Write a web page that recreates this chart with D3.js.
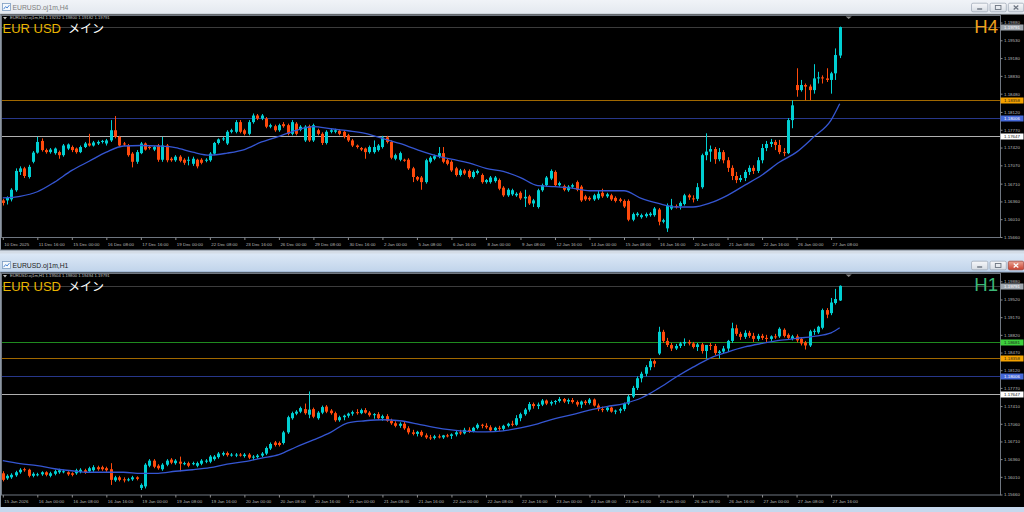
<!DOCTYPE html>
<html><head><meta charset="utf-8">
<script src="https://cdn.jsdelivr.net/npm/d3@7/dist/d3.min.js"></script>
<style>
html,body{margin:0;padding:0;background:#d6dee8;overflow:hidden}
svg{display:block}
text{font-family:"Liberation Sans",Arial,sans-serif}
</style></head><body>
<svg id="chart" width="1024" height="512"></svg>
<script>
// ---------------- DATA ----------------
const symbolName = "EUR USD";
const symbolSub = "メイン";
const h4Title = "EURUSD.oj1m,H4";
const h1Title = "EURUSD.oj1m,H1";
const h4HeaderValues = ["1.19232", "1.19800", "1.19182", "1.19791"];
const h1HeaderValues = ["1.19504", "1.19800", "1.19494", "1.19791"];

// prices in units of 0.0001
const h4Open = [11638,11638,11640,11658,11694,11701,11684,11714,11732,11755,11737,11733,11731,11733,11727,11740,11743,11740,11733,11743,11750,11746,11750,11753,11750,11756,11776,11763,11750,11746,11730,11714,11731,11750,11743,11738,11746,11718,11746,11720,11717,11724,11718,11717,11710,11718,11718,11716,11717,11730,11751,11758,11750,11773,11773,11792,11776,11769,11792,11805,11799,11799,11783,11784,11776,11788,11786,11769,11789,11777,11756,11784,11756,11776,11769,11751,11773,11773,11775,11773,11766,11756,11746,11741,11740,11733,11733,11737,11743,11762,11753,11720,11718,11718,11718,11701,11684,11683,11674,11714,11720,11724,11731,11717,11714,11701,11688,11697,11696,11684,11692,11688,11674,11674,11676,11678,11663,11648,11650,11648,11653,11642,11646,11632,11625,11658,11668,11681,11694,11668,11666,11658,11665,11674,11665,11646,11643,11640,11642,11653,11646,11648,11643,11640,11637,11637,11600,11609,11605,11607,11609,11609,11620,11596,11583,11622,11627,11627,11631,11648,11642,11641,11664,11727,11734,11739,11719,11733,11717,11702,11686,11678,11682,11694,11702,11696,11717,11741,11749,11753,11747,11733,11731,11796,11865,11855,11865,11862,11855,11878,11880,11878,11875,11888,11923];
const h4High = [11641,11646,11662,11701,11705,11704,11708,11735,11763,11760,11740,11741,11742,11736,11749,11750,11746,11742,11746,11753,11769,11755,11756,11757,11759,11796,11804,11765,11753,11749,11733,11737,11753,11752,11745,11745,11749,11763,11749,11723,11727,11727,11721,11724,11724,11720,11721,11721,11733,11753,11760,11763,11776,11779,11796,11796,11779,11796,11809,11808,11808,11802,11789,11787,11789,11792,11789,11796,11792,11786,11786,11787,11789,11779,11772,11776,11779,11779,11778,11776,11769,11759,11748,11743,11742,11746,11756,11749,11765,11765,11756,11730,11734,11720,11721,11704,11686,11686,11720,11725,11728,11743,11743,11720,11717,11704,11700,11700,11699,11697,11699,11691,11680,11686,11686,11681,11666,11662,11661,11654,11656,11659,11649,11641,11661,11671,11686,11699,11697,11675,11669,11668,11671,11677,11668,11649,11646,11651,11658,11661,11653,11651,11646,11643,11640,11640,11614,11615,11612,11614,11615,11625,11623,11602,11632,11641,11630,11636,11651,11651,11648,11672,11730,11770,11746,11743,11741,11737,11723,11707,11694,11688,11698,11707,11707,11723,11749,11755,11759,11757,11757,11741,11800,11835,11898,11875,11868,11866,11906,11891,11884,11898,11891,11937,11980];
const h4Low = [11628,11630,11636,11655,11688,11682,11681,11711,11730,11734,11730,11730,11728,11720,11724,11737,11733,11730,11731,11741,11744,11744,11747,11750,11746,11753,11760,11743,11745,11724,11703,11710,11729,11736,11738,11735,11714,11714,11713,11714,11714,11713,11708,11707,11706,11701,11709,11713,11714,11727,11748,11755,11747,11770,11770,11770,11766,11766,11789,11796,11796,11780,11780,11773,11773,11781,11766,11766,11766,11774,11753,11753,11753,11766,11747,11748,11770,11770,11766,11760,11753,11743,11740,11735,11720,11730,11730,11734,11740,11750,11719,11717,11715,11714,11698,11674,11676,11659,11671,11711,11717,11721,11711,11707,11694,11685,11685,11688,11681,11681,11689,11671,11671,11671,11673,11658,11645,11645,11647,11645,11639,11625,11629,11625,11622,11655,11665,11678,11665,11665,11656,11655,11662,11656,11635,11637,11637,11637,11639,11643,11643,11637,11634,11634,11623,11597,11597,11606,11602,11604,11606,11606,11589,11593,11576,11619,11622,11620,11628,11639,11634,11637,11661,11717,11714,11710,11715,11711,11694,11678,11672,11674,11676,11688,11690,11692,11711,11735,11743,11737,11729,11725,11729,11780,11842,11852,11835,11835,11848,11868,11868,11871,11848,11875,11918];
const h4Close = [11633,11643,11659,11696,11701,11686,11704,11732,11753,11737,11733,11738,11740,11727,11746,11748,11737,11733,11743,11750,11746,11752,11753,11755,11756,11776,11763,11746,11748,11727,11714,11733,11750,11738,11741,11743,11718,11746,11717,11717,11724,11716,11712,11718,11720,11705,11712,11718,11730,11751,11758,11760,11773,11776,11792,11773,11769,11792,11805,11799,11805,11783,11786,11776,11786,11784,11769,11792,11769,11783,11783,11756,11786,11769,11751,11773,11776,11776,11769,11763,11756,11746,11743,11738,11733,11743,11743,11746,11762,11753,11722,11727,11731,11717,11701,11684,11679,11674,11717,11722,11725,11731,11714,11710,11697,11688,11697,11691,11684,11694,11696,11674,11678,11683,11683,11661,11648,11659,11658,11651,11642,11645,11632,11638,11658,11668,11683,11696,11668,11672,11659,11665,11668,11659,11638,11640,11640,11648,11651,11646,11650,11640,11637,11637,11626,11600,11611,11612,11609,11611,11612,11622,11596,11599,11628,11628,11625,11633,11648,11644,11641,11664,11727,11734,11739,11719,11733,11717,11702,11686,11678,11682,11694,11702,11696,11717,11741,11749,11753,11747,11733,11731,11796,11825,11855,11865,11862,11855,11878,11880,11878,11875,11888,11924,11979];
const h4MaBars = [0,4,8,12,16,20,24,28,32,36,40,44,48,52,56,60,64,68,72,76,80,84,88,92,96,100,104,108,112,116,120,124,128,132,136,140,144,148,152,156,160,164,168,172,176,180,184,188,192,194];
const h4Ma = [11643,11646,11655,11674,11697,11715,11733,11745,11746,11745,11742,11733,11727,11731,11738,11753,11764,11776,11783,11779,11775,11770,11760,11750,11738,11727,11719,11712,11701,11695,11683,11667,11665,11662,11657,11657,11657,11642,11632,11625,11625,11633,11648,11668,11688,11713,11733,11763,11796,11828];

const h1Open = [11608,11598,11600,11604,11610,11616,11615,11603,11605,11606,11610,11603,11607,11610,11611,11610,11608,11608,11611,11614,11612,11614,11620,11620,11618,11616,11594,11600,11596,11595,11596,11600,11579,11582,11623,11633,11623,11616,11625,11635,11628,11631,11627,11628,11627,11623,11627,11631,11631,11636,11640,11645,11648,11644,11643,11645,11642,11645,11639,11640,11643,11647,11657,11669,11668,11668,11689,11717,11726,11730,11735,11724,11735,11717,11728,11740,11732,11727,11713,11719,11722,11726,11729,11727,11733,11728,11723,11725,11717,11721,11712,11707,11702,11706,11697,11689,11686,11690,11683,11679,11678,11681,11679,11683,11682,11685,11689,11687,11694,11691,11698,11704,11702,11699,11693,11698,11696,11702,11706,11704,11717,11725,11734,11745,11741,11744,11752,11746,11749,11751,11755,11750,11753,11749,11744,11750,11747,11754,11742,11735,11733,11738,11730,11732,11735,11746,11760,11777,11796,11805,11818,11830,11845,11888,11870,11862,11855,11860,11865,11868,11865,11858,11863,11850,11862,11860,11846,11849,11855,11870,11895,11884,11878,11886,11880,11874,11880,11876,11874,11879,11879,11892,11882,11874,11879,11874,11867,11861,11888,11887,11896,11931,11925,11945,11950];
const h1High = [11612,11606,11608,11613,11618,11619,11617,11610,11609,11612,11612,11611,11615,11617,11615,11612,11610,11617,11618,11617,11621,11624,11623,11623,11621,11628,11603,11603,11600,11599,11603,11602,11588,11628,11636,11636,11626,11628,11636,11638,11636,11641,11631,11631,11631,11631,11636,11636,11644,11644,11650,11651,11651,11648,11648,11648,11648,11648,11644,11646,11650,11661,11669,11672,11671,11692,11722,11730,11733,11740,11746,11770,11738,11731,11742,11743,11735,11730,11722,11724,11728,11732,11735,11736,11737,11731,11727,11729,11724,11725,11716,11711,11709,11710,11701,11694,11692,11693,11687,11684,11684,11685,11684,11686,11687,11692,11694,11698,11699,11700,11707,11706,11707,11703,11700,11702,11704,11708,11712,11723,11728,11737,11749,11748,11748,11755,11754,11752,11753,11759,11757,11756,11757,11752,11752,11753,11757,11756,11746,11740,11741,11740,11734,11738,11748,11763,11781,11800,11809,11822,11835,11833,11898,11892,11876,11866,11864,11868,11875,11872,11868,11866,11866,11862,11866,11864,11852,11860,11872,11906,11902,11888,11891,11890,11886,11884,11884,11882,11881,11884,11897,11895,11885,11882,11883,11877,11870,11892,11894,11900,11934,11935,11955,11973,11980];
const h1Low = [11592,11595,11597,11601,11607,11611,11600,11600,11602,11603,11602,11600,11604,11607,11608,11603,11602,11605,11608,11607,11609,11611,11613,11613,11611,11585,11591,11592,11590,11592,11593,11594,11575,11578,11620,11618,11615,11613,11622,11626,11625,11612,11624,11620,11624,11620,11624,11628,11628,11633,11637,11642,11641,11641,11640,11641,11639,11636,11634,11637,11640,11644,11654,11661,11661,11665,11686,11714,11723,11727,11724,11717,11717,11714,11725,11727,11724,11710,11710,11713,11718,11722,11724,11725,11726,11720,11716,11714,11712,11710,11704,11699,11698,11694,11685,11683,11681,11680,11676,11674,11675,11677,11676,11679,11676,11681,11684,11685,11688,11689,11695,11697,11696,11690,11691,11692,11692,11699,11701,11702,11711,11722,11730,11736,11735,11741,11743,11742,11744,11748,11747,11745,11746,11740,11737,11743,11744,11740,11731,11729,11730,11728,11725,11727,11731,11743,11757,11773,11788,11800,11812,11818,11842,11866,11858,11850,11852,11856,11860,11861,11855,11850,11845,11835,11852,11842,11835,11845,11848,11866,11880,11872,11874,11876,11868,11870,11872,11868,11870,11874,11876,11877,11873,11871,11867,11861,11853,11858,11882,11884,11893,11915,11921,11942,11949];
const h1Close = [11595,11603,11605,11610,11615,11614,11603,11607,11606,11610,11605,11608,11612,11614,11612,11606,11605,11614,11615,11610,11618,11620,11616,11616,11614,11595,11600,11595,11595,11596,11600,11597,11585,11625,11633,11621,11618,11625,11633,11629,11633,11627,11628,11623,11628,11628,11633,11633,11641,11641,11647,11648,11644,11645,11645,11644,11645,11639,11641,11643,11647,11658,11666,11664,11664,11689,11719,11727,11730,11737,11727,11734,11720,11728,11739,11730,11727,11713,11719,11722,11726,11729,11727,11733,11728,11723,11725,11717,11721,11712,11707,11702,11706,11697,11689,11686,11690,11683,11679,11678,11681,11679,11683,11682,11685,11689,11687,11694,11691,11698,11704,11702,11699,11693,11698,11696,11702,11706,11704,11717,11725,11734,11745,11741,11744,11752,11746,11749,11751,11755,11750,11753,11749,11744,11750,11747,11754,11742,11735,11733,11738,11730,11732,11735,11746,11760,11777,11796,11805,11818,11830,11825,11888,11870,11862,11855,11860,11865,11868,11865,11858,11863,11850,11862,11860,11846,11849,11855,11870,11895,11884,11878,11886,11880,11874,11880,11876,11874,11879,11878,11894,11880,11876,11879,11871,11865,11861,11889,11890,11898,11931,11922,11946,11953,11979];
const h1MaBars = [0,4,8,12,16,20,24,28,32,36,40,44,48,52,56,60,64,68,72,76,80,84,88,92,96,100,104,108,112,116,120,124,128,132,136,140,144,148,152,156,160,164,168,172,176,180,184,188,192,194];
const h1Ma = [11633,11627,11623,11617,11613,11610,11610,11610,11608,11608,11612,11615,11619,11626,11631,11638,11645,11660,11674,11689,11708,11712,11714,11712,11706,11699,11694,11691,11690,11692,11698,11706,11716,11724,11733,11740,11746,11757,11776,11798,11818,11836,11848,11858,11865,11871,11875,11879,11886,11896];

const h4Levels = [1.19791, 1.18358, 1.18006, 1.17647];
const h4LevelKinds = ["bid", "orange", "blue", "white"];
const h1Levels = [1.19791, 1.18681, 1.18358, 1.18006, 1.17647];
const h1LevelKinds = ["bid", "green", "orange", "blue", "white"];

const h4PriceTicks = ["1.19880","1.19530","1.19180","1.18830","1.18480","1.18120","1.17770","1.17420","1.17070","1.16710","1.16360","1.16010","1.15660"];
const h1PriceTicks = ["1.19880","1.19520","1.19170","1.18820","1.18470","1.18120","1.17770","1.17410","1.17060","1.16710","1.16360","1.16010","1.15660"];

const h4TimeLabels = ["10 Dec 2025","11 Dec 16:00","15 Dec 00:00","16 Dec 08:00","17 Dec 16:00","19 Dec 00:00","22 Dec 08:00","23 Dec 16:00","26 Dec 00:00","29 Dec 08:00","30 Dec 16:00","2 Jan 00:00","5 Jan 08:00","6 Jan 16:00","8 Jan 00:00","9 Jan 08:00","12 Jan 16:00","14 Jan 00:00","15 Jan 08:00","16 Jan 16:00","20 Jan 00:00","21 Jan 08:00","22 Jan 16:00","26 Jan 00:00","27 Jan 08:00"];
const h1TimeLabels = ["15 Jan 2026","16 Jan 00:00","16 Jan 08:00","16 Jan 16:00","19 Jan 00:00","19 Jan 08:00","19 Jan 16:00","20 Jan 00:00","20 Jan 08:00","20 Jan 16:00","21 Jan 00:00","21 Jan 08:00","21 Jan 16:00","22 Jan 00:00","22 Jan 08:00","22 Jan 16:00","23 Jan 00:00","23 Jan 08:00","23 Jan 16:00","26 Jan 00:00","26 Jan 08:00","26 Jan 16:00","27 Jan 00:00","27 Jan 08:00","27 Jan 16:00"];

// ---------------- DRAW ----------------
const svg = d3.select("#chart");
const defs = svg.append("defs");
function vgrad(id, stops) {
  const g = defs.append("linearGradient").attr("id", id).attr("x1", 0).attr("y1", 0).attr("x2", 0).attr("y2", 1);
  stops.forEach(([o, c]) => g.append("stop").attr("offset", o).attr("stop-color", c));
}
vgrad("tbI", [[0, "#f6f8fb"], [1, "#e3e8ef"]]);
vgrad("tbA", [[0, "#dce8f6"], [1, "#bfd3ea"]]);
vgrad("btn", [[0, "#f7f8fa"], [1, "#d5dbe3"]]);
vgrad("btnR", [[0, "#eaa595"], [1, "#c8402f"]]);

svg.append("rect").attr("width", 1024).attr("height", 512).attr("fill", "#d4dce6");

const levelStyle = {
  bid:    { line: "#3c3c3c", box: "#9ea5ad", text: "#ffffff" },
  orange: { line: "#a06800", box: "#f5a200", text: "#1a1a1a" },
  blue:   { line: "#27378a", box: "#4568d8", text: "#ffffff" },
  white:  { line: "#b0b0b0", box: "#ffffff", text: "#1a1a1a" },
  green:  { line: "#1f8a1f", box: "#3dd03d", text: "#1a1a1a" }
};
const BULL = "#00cfd2", BEAR = "#ff4a0c", MA = "#3556d2";

let clipN = 0;
function drawWindow(o) {
  const root = svg.append("g");
  // title bar
  root.append("rect").attr("x", 0).attr("y", o.tb[0]).attr("width", 1024).attr("height", o.tb[1] - o.tb[0])
    .attr("fill", o.active ? "url(#tbA)" : "url(#tbI)");
  root.append("line").attr("x1", 0).attr("x2", 1024).attr("y1", o.tb[1] - 0.5).attr("y2", o.tb[1] - 0.5)
    .attr("stroke", o.active ? "#8da7c6" : "#b9c1cb");
  const ic = root.append("g").attr("transform", `translate(2,${o.tb[1] - 11.5})`);
  ic.append("rect").attr("x", 0.5).attr("y", 0.5).attr("width", 8).attr("height", 7).attr("fill", "#f4f8fc").attr("stroke", "#7d9cc0").attr("stroke-width", 0.8);
  ic.append("path").attr("d", "M1.6 6.2 L3.6 3.6 L5.1 5 L7.4 2.1").attr("fill", "none").attr("stroke", "#3b7ad0").attr("stroke-width", 0.9);
  root.append("text").attr("x", 12.5).attr("y", o.tb[1] - 5).attr("font-size", 6.8)
    .attr("fill", o.active ? "#222" : "#7d7d7d").text(o.title);
  // window buttons
  const by = o.tb[1] - 11.8, bh = 8.6;
  [[971, 16.3], [989.5, 16.3], [1007.8, 15.4]].forEach(([bx, bw], k) => {
    const red = o.active && k === 2;
    root.append("rect").attr("x", bx + 0.5).attr("y", by + 0.5).attr("width", bw).attr("height", bh).attr("rx", 1.5)
      .attr("fill", red ? "url(#btnR)" : "url(#btn)").attr("stroke", red ? "#9c3a2e" : "#9aa4b1").attr("stroke-width", 0.7);
    const cx = bx + 0.5 + bw / 2, cy = by + 0.5 + bh / 2;
    const gc = red ? "#fff" : "#6c7480";
    if (k === 0) root.append("rect").attr("x", cx - 2.5).attr("y", cy + 0.8).attr("width", 5).attr("height", 1.4).attr("fill", gc);
    if (k === 1) root.append("rect").attr("x", cx - 2.8).attr("y", cy - 2).attr("width", 5.6).attr("height", 4).attr("fill", "none").attr("stroke", gc).attr("stroke-width", 0.9);
    if (k === 2) root.append("path").attr("d", `M${cx - 2.3} ${cy - 2} L${cx + 2.3} ${cy + 2} M${cx + 2.3} ${cy - 2} L${cx - 2.3} ${cy + 2}`)
      .attr("stroke", gc).attr("stroke-width", 1.3);
  });
  // black chart area
  root.append("rect").attr("x", 0).attr("y", o.blk[0]).attr("width", 1024).attr("height", o.blk[1] - o.blk[0]).attr("fill", "#000");
  root.append("rect").attr("x", 0).attr("y", o.blk[0]).attr("width", 1).attr("height", o.blk[1] - o.blk[0]).attr("fill", "#8c96a3");

  const p = o.plot;
  const x = d3.scaleLinear().domain([0, 194]).range([2.8, 839.7]);
  const y = d3.scaleLinear().domain([1.1566, 1.1988]).range(o.yRange);
  const d = o.data;
  const n = d.open.length;

  const cid = "clip" + (clipN++);
  defs.append("clipPath").attr("id", cid).append("rect").attr("x", p.x0).attr("y", p.y0).attr("width", p.x1 - p.x0).attr("height", p.y1 - p.y0);
  const pg = root.append("g").attr("clip-path", `url(#${cid})`);

  // level lines
  pg.selectAll("line.lvl").data(o.levels).join("line").attr("class", "lvl")
    .attr("x1", p.x0).attr("x2", p.x1)
    .attr("y1", v => Math.round(y(v)) + 0.5).attr("y2", v => Math.round(y(v)) + 0.5)
    .attr("stroke", (v, i) => levelStyle[o.kinds[i]].line).attr("stroke-width", 1);

  // candles
  const idx = d3.range(n);
  const cx = i => Math.round(x(i));
  const col = i => (d.close[i] >= d.open[i] ? BULL : BEAR);
  const Y = v => y(v / 10000);
  pg.selectAll("rect.wick").data(idx).join("rect").attr("class", "wick")
    .attr("x", i => cx(i)).attr("width", 1)
    .attr("y", i => Y(d.high[i])).attr("height", i => Math.max(1, Y(d.low[i]) - Y(d.high[i])))
    .attr("fill", col);
  pg.selectAll("rect.body").data(idx).join("rect").attr("class", "body")
    .attr("x", i => cx(i) - 1).attr("width", 3)
    .attr("y", i => Y(Math.max(d.open[i], d.close[i])))
    .attr("height", i => Math.max(1, Math.abs(Y(d.open[i]) - Y(d.close[i]))))
    .attr("fill", col);

  // moving average
  const maLine = d3.line().x((b, k) => x(b)).y((b, k) => Y(o.ma[k])).curve(d3.curveMonotoneX);
  pg.append("path").attr("d", maLine(o.maBars)).attr("fill", "none").attr("stroke", MA).attr("stroke-width", 1.3);

  // plot border
  root.append("rect").attr("x", p.x0 - 0.5).attr("y", p.y0 - 0.5).attr("width", p.x1 - p.x0 + 1).attr("height", p.y1 - p.y0 + 1)
    .attr("fill", "none").attr("stroke", "#6f7680").attr("stroke-width", 1);

  // chart-shift marker
  root.append("path").attr("d", `M${x(194) + 6} ${p.y0 + 0.5} L${x(194) + 12} ${p.y0 + 0.5} L${x(194) + 9} ${p.y0 + 3}Z`).attr("fill", "#8a8a8a");

  // price axis
  const pa = root.append("g").attr("transform", `translate(${p.x1 + 0.5},0)`)
    .call(d3.axisRight(y).tickValues(o.priceTicks.map(Number)).tickFormat(d3.format(".5f")).tickSize(2).tickPadding(1.5));
  pa.select(".domain").remove();
  pa.selectAll("line").attr("stroke", "#8d8d8d");
  pa.selectAll("text").attr("fill", "#bcbcbc").attr("font-size", 4.4).attr("font-family", "Liberation Sans, Arial, sans-serif");

  // level boxes
  o.levels.forEach((v, i) => {
    const st = levelStyle[o.kinds[i]];
    const yy = Math.round(y(v)) + 0.5;
    root.append("rect").attr("x", p.x1 + 0.5).attr("y", yy - 3).attr("width", 23).attr("height", 6).attr("fill", st.box);
    root.append("text").attr("x", p.x1 + 12).attr("y", yy + 1.6).attr("text-anchor", "middle").attr("font-size", 4.4)
      .attr("fill", st.text).text(d3.format(".5f")(v));
  });

  // time axis
  const ta = root.append("g").attr("transform", `translate(0,${p.y1 + 0.5})`)
    .call(d3.axisBottom(x).tickValues(d3.range(0, 195, 8)).tickFormat((t, i) => o.timeLabels[i]).tickSize(2.5));
  ta.select(".domain").remove();
  ta.selectAll("line").attr("stroke", "#8d8d8d");
  ta.selectAll("text").attr("text-anchor", "start").attr("x", 1).attr("y", o.timeDy).attr("dy", null)
    .attr("fill", "#b8b8b8").attr("font-size", 4.4).attr("font-family", "Liberation Sans, Arial, sans-serif");

  // header line
  root.append("path").attr("d", `M3 ${p.y0 + 1} L7 ${p.y0 + 1} L5 ${p.y0 + 3.4}Z`).attr("fill", "#bdbdbd");
  root.append("text").attr("x", 10).attr("y", p.y0 + 3.3).attr("font-size", 4.2).attr("fill", "#c4c4c4")
    .text(o.title + "  " + o.header.join(" "));

  // symbol label
  const lab = root.append("text").attr("x", 2.5).attr("y", o.labelY).attr("font-size", 13);
  lab.append("tspan").attr("fill", "#e8b400").text(o.symbol);
  lab.append("tspan").attr("fill", "#ffffff").attr("dx", 7).attr("font-family", "'Noto Sans CJK JP', sans-serif").attr("font-size", 12).text(o.sub);

  // timeframe label
  root.append("text").attr("x", 998).attr("y", o.labelY).attr("text-anchor", "end").attr("font-size", 18.5)
    .attr("fill", o.tfColor).text(o.tf);
}

drawWindow({
  tb: [-6, 14.5], blk: [14.5, 250], active: false, title: h4Title,
  plot: { x0: 2, x1: 1000, y0: 16, y1: 237 }, yRange: [237, 22.5], timeDy: 8,
  data: { open: h4Open, high: h4High, low: h4Low, close: h4Close },
  ma: h4Ma, maBars: h4MaBars, levels: h4Levels, kinds: h4LevelKinds,
  priceTicks: h4PriceTicks, timeLabels: h4TimeLabels, header: h4HeaderValues,
  symbol: symbolName, sub: symbolSub, tf: "H4", tfColor: "#f0a21c", labelY: 33
});
svg.append("rect").attr("x", 0).attr("y", 249.5).attr("width", 1024).attr("height", 1).attr("fill", "#7c8591");
drawWindow({
  tb: [253.5, 272.5], blk: [272.5, 507], active: true, title: h1Title,
  plot: { x0: 2, x1: 1000, y0: 274, y1: 494.5 }, yRange: [494.5, 281.3], timeDy: 8,
  data: { open: h1Open, high: h1High, low: h1Low, close: h1Close },
  ma: h1Ma, maBars: h1MaBars, levels: h1Levels, kinds: h1LevelKinds,
  priceTicks: h1PriceTicks, timeLabels: h1TimeLabels, header: h1HeaderValues,
  symbol: symbolName, sub: symbolSub, tf: "H1", tfColor: "#3cb878", labelY: 291
});
svg.append("rect").attr("x", 0).attr("y", 507).attr("width", 1024).attr("height", 5).attr("fill", "#c6d8ed");
</script>
</body></html>
